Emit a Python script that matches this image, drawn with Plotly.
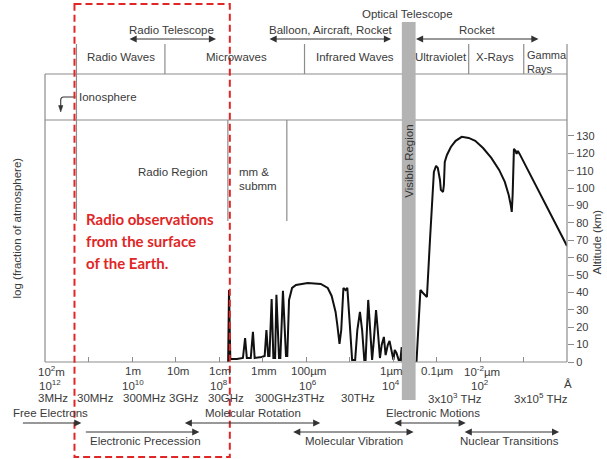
import plotly.graph_objects as go

# ---------------- data ----------------
# atmospheric transmission curve: log10(wavelength / m) vs altitude (km)
log_wavelength_m = [
    -2.21, -2.23, -2.26, -2.41, -2.55, -2.60, -2.64, -2.73, -2.78, -2.82,
    -2.98, -3.05, -3.09, -3.13, -3.16, -3.21, -3.25, -3.29, -3.32, -3.38,
    -3.41, -3.47, -3.54, -3.57, -3.61, -3.68, -3.77, -4.04, -4.34, -4.50,
    -4.59, -4.63, -4.68, -4.72, -4.77, -4.81, -4.86, -4.91, -4.95, -5.00,
    -5.06, -5.13, -5.18, -5.24, -5.29, -5.34, -5.37, -5.43, -5.48, -5.52,
    -5.56, -5.61, -5.65, -5.70, -5.74, -5.79, -5.83, -5.88, -5.92, -5.97,
    -6.01, -6.04, -6.08, -6.13, -6.17, -6.20, -6.22, -6.54, -6.58, -6.63,
    -6.69, -6.78, -6.85, -6.90, -6.94, -6.99, -7.03, -7.08, -7.10, -7.15,
    -7.17, -7.19, -7.24, -7.33, -7.44, -7.58, -7.74, -7.89, -8.07, -8.26,
    -8.44, -8.57, -8.66, -8.71, -8.73, -8.75, -8.77, -8.78, -8.82, -8.84,
    -8.87, -8.91, -10.0,
]
altitude_km = [
    0.0, 41.4, 1.7, 1.7, 2.3, 13.8, 2.3, 2.3, 17.3, 2.3,
    2.9, 3.5, 18.4, 3.5, 3.5, 36.2, 2.3, 2.3, 38.6, 2.3,
    2.3, 40.9, 3.5, 3.5, 35.7, 42.6, 44.3, 45.5, 44.9, 42.6,
    38.0, 33.4, 28.8, 21.3, 10.4, 18.4, 42.6, 41.4, 42.6, 24.2,
    1.2, 1.2, 18.4, 28.8, 18.4, 1.2, 1.2, 35.7, 18.4, 1.2,
    12.7, 29.9, 18.4, 2.3, 9.8, 14.4, 4.0, 9.8, 12.1, 6.9,
    1.2, 6.9, 5.2, 1.2, 1.2, 8.6, 0.0, 0.0, 20.7, 41.4,
    39.7, 37.4, 70.2, 93.2, 109.3, 112.8, 111.6, 104.7, 99.0, 97.8,
    101.8, 115.1, 119.1, 123.7, 127.2, 129.5, 128.9, 127.2, 123.1, 117.4,
    110.5, 103.6, 96.1, 89.8, 86.3, 96.1, 120.8, 122.6, 121.4, 119.7,
    121.4, 119.7, 66.7,
]

log_fraction_ticks = [0, -1, -2, -3, -4, -5, -6, -7, -8]
log_fraction_labels = ["0", "-1", "-2", "-3", "-4", "-5", "-6", "-7", "-8"]
altitude_ticks = [0, 10, 20, 30, 40, 50, 60, 70, 80, 90, 100, 110, 120, 130]
decade_ticks = [1, 0, -1, -2, -3, -4, -5, -6, -7, -8, -9]

wavelength_labels = ["10<sup>2</sup>m", "1m", "10m", "1cm", "1mm", "100µm",
                     "1µm", "0.1µm", "10<sup>-2</sup>µm"]
wavelength_label_logs = [2, 0, -1, -2, -3, -4, -6, -7, -8]
angstrom_labels = ["10<sup>12</sup>", "10<sup>10</sup>", "10<sup>8</sup>",
                   "10<sup>6</sup>", "10<sup>4</sup>", "10<sup>2</sup>"]
angstrom_label_logs = [2, 0, -2, -4, -6, -8]
frequency_labels = ["3MHz", "30MHz", "300MHz", "3GHz", "30GHz", "300GHz",
                    "3THz", "30THz", "3x10<sup>3</sup> THz", "3x10<sup>5</sup> THz"]
frequency_label_logs = [2, 1, 0, -1, -2, -3, -4, -5, -7, -9]

band_labels = ["Radio Waves", "Microwaves", "Infrared Waves", "Ultraviolet", "X-Rays", "Gamma<br>Rays"]
platform_labels = ["Radio Telescope", "Balloon, Aircraft, Rocket", "Optical Telescope", "Rocket"]
process_labels = ["Free Electrons", "Molecular Rotation", "Electronic Motions",
                  "Electronic Precession", "Molecular Vibration", "Nuclear Transitions"]

# ---------------- layout helpers ----------------
W, H = 607, 459
L0, R0, T0, B0 = 45, 576, 120, 362
FONT = "Liberation Sans, Arial, sans-serif"
TXT = "#3a3a3a"
GRAY = "#8c8c8c"


def PX(x):
    return (x - L0) / (R0 - L0)


def PY(y):
    return (B0 - y) / (B0 - T0)


annotations = []
shapes = []


def text(s, x, y, size=11.5, color=TXT, xanchor="center", angle=0, family=FONT, xref="paper", xshift=0):
    annotations.append(dict(
        text=s, x=(PX(x) if xref == "paper" else x), y=PY(y), xref=xref, yref="paper",
        xanchor=xanchor, yanchor="middle", showarrow=False, textangle=angle,
        font=dict(family=family, size=size, color=color), xshift=xshift,
    ))


def line(x0, y0, x1, y1, color=GRAY, width=1.2, layer="above"):
    shapes.append(dict(type="line", xref="paper", yref="paper",
                       x0=PX(x0), y0=PY(y0), x1=PX(x1), y1=PY(y1),
                       line=dict(color=color, width=width), layer=layer))


def arrow(x1, x2, y, both=True):
    annotations.append(dict(
        x=PX(x2), y=PY(y), xref="paper", yref="paper", ax=x1 - x2, ay=0,
        text="", showarrow=True, arrowhead=2, startarrowhead=2, arrowsize=1.3,
        startarrowsize=1.3, arrowwidth=1.1, arrowcolor="#333333",
        arrowside="end+start" if both else "end", standoff=0, startstandoff=0,
    ))


# ---------------- figure ----------------
fig = go.Figure()
fig.add_trace(go.Scatter(
    x=log_wavelength_m, y=altitude_km, mode="lines", yaxis="y2",
    line=dict(color="#111111", width=2), hoverinfo="skip", showlegend=False,
))

# frame lines
line(L0, 74, R0, 74)
line(L0, 120, R0, 120)
line(L0, 74, L0, B0)
line(R0, 44, R0, B0)
line(L0, B0, R0, B0)
for xs in (167, 309, 476, 532):
    line(xs, 44, xs, 74)
line(77, 44, 77, 221)
line(231, 120, 231, 221)
line(291, 120, 291, 221)

# ionosphere hook arrow
shapes.append(dict(type="path", xref="paper", yref="paper", layer="above",
                   path=f"M {PX(76)} {PY(97)} L {PX(64)} {PY(97)} Q {PX(61)} {PY(97)} {PX(61)} {PY(100)} L {PX(61)} {PY(107)}",
                   line=dict(color="#333333", width=1.1)))
shapes.append(dict(type="path", xref="paper", yref="paper", layer="above",
                   path=f"M {PX(58.8)} {PY(105.5)} L {PX(63.2)} {PY(105.5)} L {PX(61)} {PY(112)} Z",
                   fillcolor="#333333", line=dict(color="#333333", width=0.5)))

# visible band
shapes.append(dict(type="rect", xref="paper", yref="paper", layer="above",
                   x0=PX(408), x1=PX(422), y0=PY(22), y1=PY(400),
                   fillcolor="#b3b3b3", line=dict(width=0)))

# red dashed box
shapes.append(dict(type="rect", xref="paper", yref="paper", layer="above",
                   x0=PX(75), x1=PX(233), y0=PY(4), y1=PY(457),
                   fillcolor="rgba(0,0,0,0)", line=dict(color="#e02626", width=2, dash="7px,4px")))

# header texts
text(platform_labels[0], 174, 30)
text(platform_labels[1], 336, 30)
text(platform_labels[2], 414, 14)
text(platform_labels[3], 485, 30)
arrow(131, 219, 39)
arrow(274, 397, 39)
arrow(423, 547, 39)

for s, x in zip(band_labels[:5], (122, 240, 360, 448, 503)):
    text(s, x, 57)
annotations.append(dict(text=band_labels[5], x=PX(533), y=PY(62), xref="paper", yref="paper",
                        xanchor="left", yanchor="middle", showarrow=False, align="left",
                        font=dict(family=FONT, size=11, color=TXT)))
text("Ionosphere", 78, 97, xanchor="left")

text("Radio Region", 175, 172)
text("mm &amp;", 240, 172, xanchor="left")
text("submm", 240, 186, xanchor="left")
text("Visible Region", 415, 161, angle=-90, size=11.5, color="#333333")

# red note
RED = "#e02626"
for s, y in zip(["Radio observations", "from the surface", "of the Earth."], (219, 241, 263)):
    annotations.append(dict(text=f"<b>{s}</b>", x=PX(85), y=PY(y), xref="paper", yref="paper",
                            xanchor="left", yanchor="middle", showarrow=False,
                            font=dict(family="Lato, sans-serif", size=15, color=RED)))

# bottom tick labels (positioned at their decades)
wl_shift = [6, 1, 2, 1, 1, 2, -2, 0, 2]
for s, lg, sh in zip(wavelength_labels, wavelength_label_logs, wl_shift):
    text(s, lg, 371, xref="x", xshift=sh)
ang_shift = [5, 1, 0, 2, -2, 0]
for s, lg, sh in zip(angstrom_labels, angstrom_label_logs, ang_shift):
    text(s, lg, 385, xref="x", xshift=sh)
text("Å", 577, 384)
fq_shift = [8, 7, 12, 8, 7, 13, 5, 8, 18, 17]
for s, lg, sh in zip(frequency_labels, frequency_label_logs, fq_shift):
    text(s, lg, 398, xref="x", xshift=sh)

# bottom processes
text(process_labels[0], 51, 413)
text(process_labels[1], 257, 413)
text(process_labels[2], 440, 413)
text(process_labels[3], 147, 441)
text(process_labels[4], 359, 441)
text(process_labels[5], 518, 441)
arrow(22, 82, 423, both=False)
arrow(188, 325, 423)
arrow(400, 473, 423)
arrow(87, 202, 432, both=False)
arrow(298, 420, 432)
arrow(472, 568, 432)

# axis titles (the right one runs off the edge, as in the source image)
text("log (fraction of atmosphere)", 17, 228, angle=-90, size=11.5)
text("Altitude (km)", 607, 242, angle=-90, size=11.5)

fig.update_layout(
    width=W, height=H,
    margin=dict(l=L0, r=W - R0, t=T0, b=H - B0),
    paper_bgcolor="white", plot_bgcolor="white",
    showlegend=False,
    xaxis=dict(range=[2, -10], showgrid=False, zeroline=False, showline=False,
               ticks="inside", ticklen=5, tickcolor=GRAY, tickwidth=1,
               tickvals=decade_ticks, showticklabels=False),
    yaxis=dict(range=[0, -8.57], showgrid=False, zeroline=False, showline=False,
               ticks="outside", ticklen=5, tickcolor=GRAY, tickwidth=1,
               tickvals=log_fraction_ticks, ticktext=log_fraction_labels,
               tickfont=dict(family=FONT, size=11, color=TXT)),
    yaxis2=dict(range=[0, 139.2], overlaying="y", side="right", showgrid=False,
                zeroline=False, showline=False, ticks="outside", ticklen=6,
                tickcolor=GRAY, tickwidth=1, tickvals=altitude_ticks,
                tickfont=dict(family=FONT, size=11, color=TXT)),
    shapes=shapes,
    annotations=annotations,
)

fig.write_html("out.html", config={"displayModeBar": False},
               post_script="document.body.style.margin='0px';document.body.style.padding='0px';")
